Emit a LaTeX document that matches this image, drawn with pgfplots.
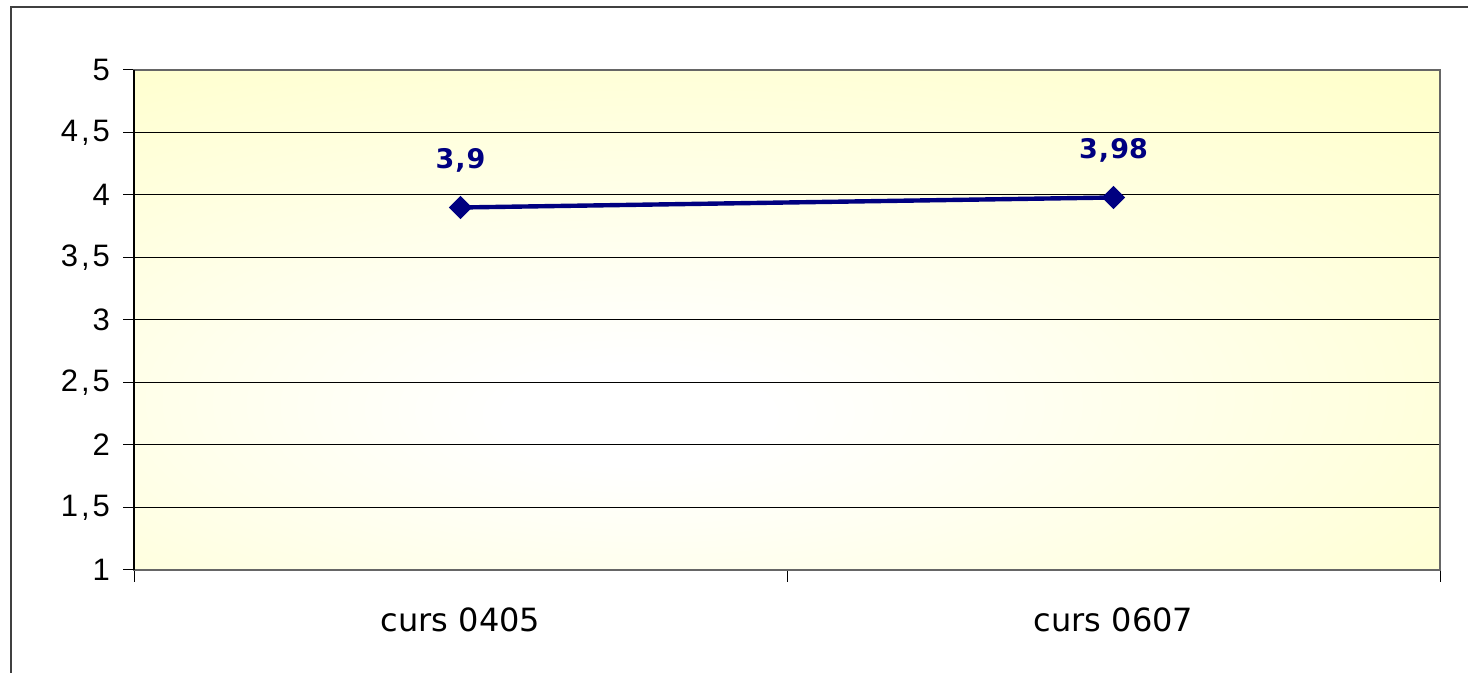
\documentclass[border=0pt]{standalone}
\usepackage{pgfplots}
\pgfplotsset{compat=1.18}
\usepackage{fontspec}
\setmainfont{DejaVu Sans}
\newfontfamily\arialf{Liberation Sans}
\definecolor{yel}{HTML}{FFFFCC}
\definecolor{navy}{HTML}{000080}
\pgfdeclareradialshading{bgshade}{\pgfpoint{-6bp}{-10bp}}{color(0bp)=(white); color(5bp)=(white); color(40bp)=(yel); color(100bp)=(yel)}
\begin{document}
\begin{tikzpicture}
\useasboundingbox (0,0) rectangle (734pt,336.5pt);
\clip (0,0) rectangle (734pt,336.5pt);
\draw[black!75, line width=0.8pt] (5.5pt,-20pt) -- (5.5pt,333pt) -- (760pt,333pt);
\begin{axis}[
  at={(67pt,51.5pt)}, anchor=south west,
  scale only axis, width=653pt, height=250pt,
  xmin=0.5, xmax=2.5, ymin=1, ymax=5,
  xtick pos=bottom, ytick pos=left,
  xtick={1,2}, xticklabels={\mbox{curs 0405}, \mbox{curs 0607}},
  minor xtick={0.5,1.5,2.5},
  major x tick style={draw=none},
  minor tick length=6pt,
  x tick label style={font=\fontsize{16}{18}\selectfont, yshift=-10pt},
  ytick={1,1.5,2,2.5,3,3.5,4,4.5,5},
  yticklabels={\mbox{1},\mbox{1\kern1.5pt,\kern1.5pt5},\mbox{2},\mbox{2\kern1.5pt,\kern1.5pt5},\mbox{3},\mbox{3\kern1.5pt,\kern1.5pt5},\mbox{4},\mbox{4\kern1.5pt,\kern1.5pt5},\mbox{5}},
  y tick label style={font=\arialf\fontsize{15.5}{18}\selectfont, xshift=-3pt},
  tick align=outside, major tick length=5.5pt,
  tick style={black, line width=0.5pt},
  ymajorgrids, grid style={black, line width=0.5pt},
  axis line style={black!60, line width=0.8pt},
  axis background/.style={shading=bgshade},
  clip=false,
]
\addplot[navy, line width=2.2pt, mark=square*, mark size=3pt, mark options={rotate=45, solid},
  nodes near coords, point meta=explicit symbolic,
  every node near coord/.style={font=\bfseries\fontsize{13.5}{16}\selectfont, navy, yshift=13pt}]
  coordinates {(1,3.9) [3\kern0.5pt,\kern0.5pt9] (2,3.98) [3\kern0.5pt,\kern0.5pt98]};
\draw[black, line width=0.8pt] (axis cs:0.5,1) -- (axis cs:0.5,5);
\end{axis}
\end{tikzpicture}
\end{document}
